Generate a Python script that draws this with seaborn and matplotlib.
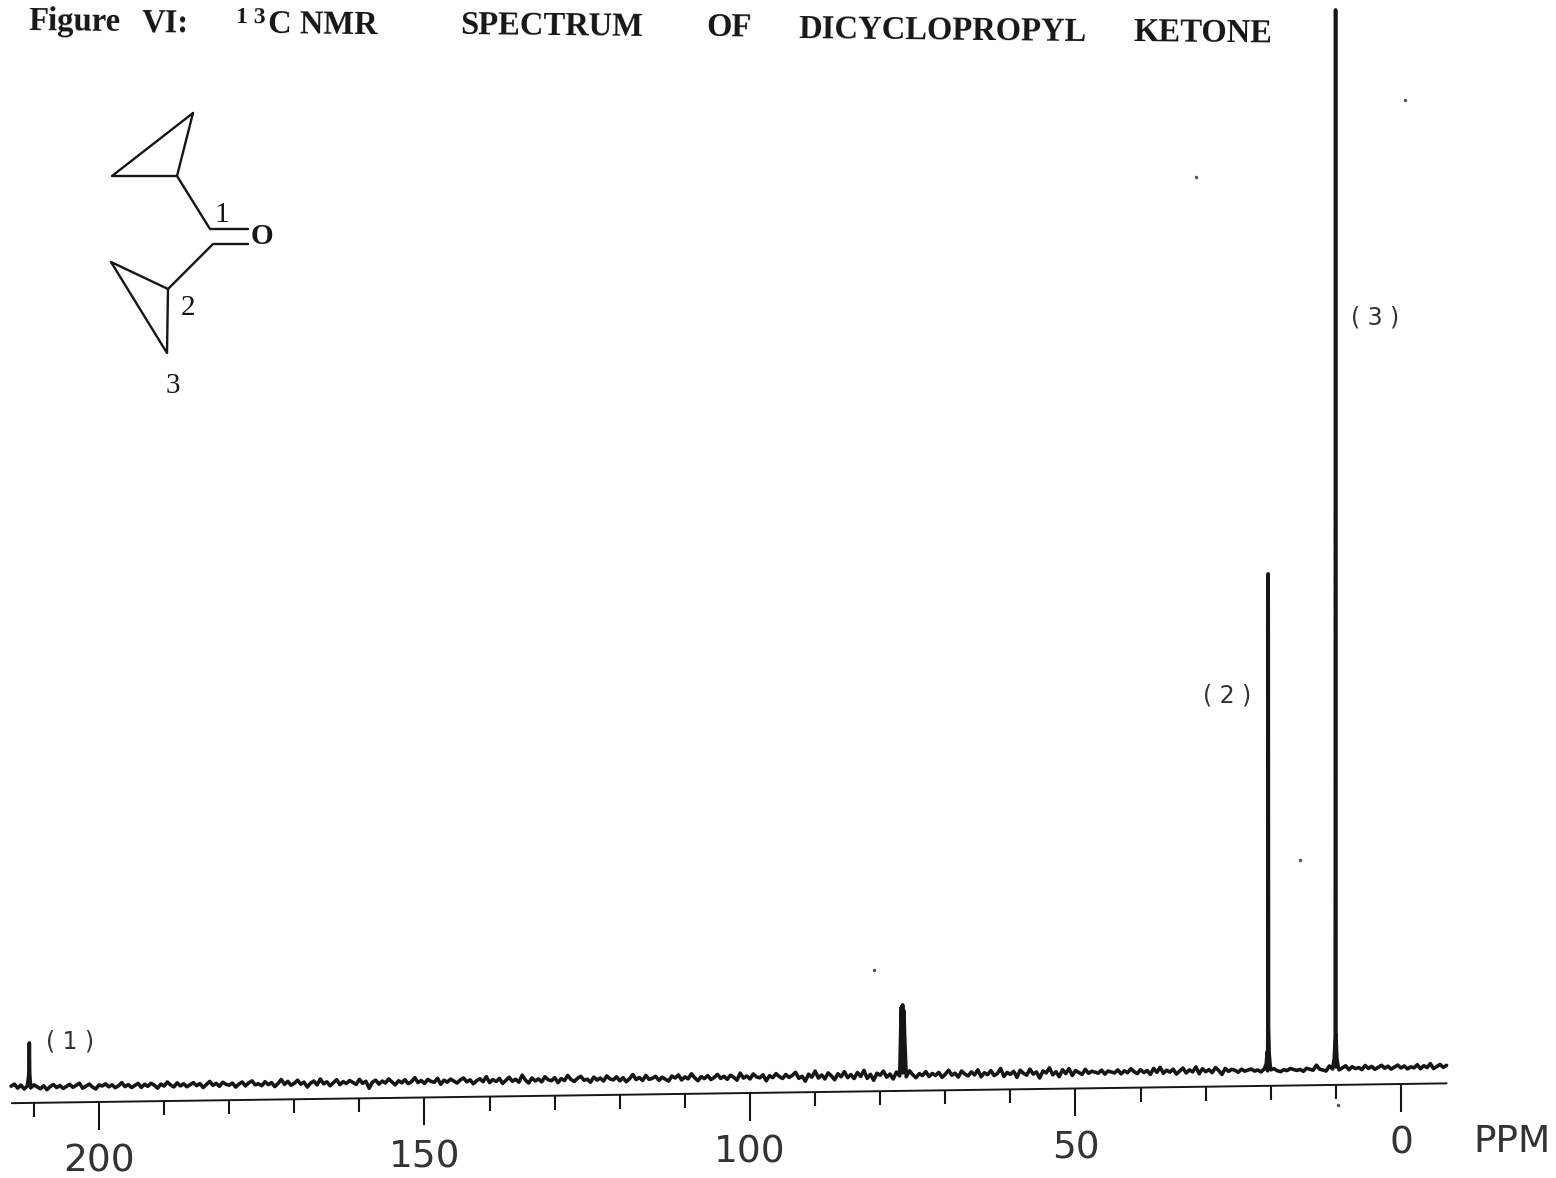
import numpy as np
import pandas as pd
import matplotlib.pyplot as plt
import seaborn as sns
from matplotlib.transforms import Affine2D

# baseline, one value every 0.5 ppm from 213.5 down to -7
baseline = [
    17, 19, 15, 18, 14, 17, 15, 18, 16, 14, 17, 13, 16, 18, 15, 17, 14, 16, 18, 15,
    17, 19, 14, 16, 18, 15, 13, 17, 16, 18, 15, 17, 14, 16, 19, 15, 17, 14, 16, 18,
    14, 17, 15, 18, 16, 13, 17, 15, 19, 16, 14, 18, 15, 17, 14, 16, 18, 15, 17, 13,
    16, 19, 15, 17, 14, 18, 16, 15, 17, 13, 16, 18, 14, 17, 19, 15, 16, 14, 18, 15,
    17, 13, 16, 20, 15, 18, 14, 16, 19, 15, 17, 12, 16, 18, 14, 20, 15, 17, 13, 16,
    19, 14, 17, 15, 18, 16, 14, 19, 15, 17, 10, 16, 18, 14, 17, 15, 19, 16, 13, 17,
    15, 18, 14, 16, 20, 15, 17, 14, 18, 16, 15, 19, 13, 17, 15, 18, 16, 14, 17, 19,
    15, 17, 13, 16, 18, 15, 20, 14, 17, 15, 18, 13, 16, 19, 15, 17, 14, 21, 16, 13,
    18, 15, 17, 14, 19, 16, 15, 18, 13, 17, 15, 20, 16, 14, 17, 19, 15, 16, 13, 18,
    15, 17, 14, 19, 16, 15, 18, 14, 17, 13, 16, 20, 15, 17, 14, 19, 15, 16, 18, 14,
    17, 15, 13, 18, 16, 19, 14, 17, 15, 20, 16, 13, 17, 15, 18, 14, 16, 19, 15, 17,
    14, 18, 16, 13, 20, 15, 17, 14, 19, 16, 15, 18, 12, 17, 15, 19, 16, 14, 18, 15,
    17, 20, 14, 16, 11, 18, 15, 21, 14, 17, 13, 19, 16, 12, 18, 15, 20, 14, 17, 13,
    19, 15, 21, 13, 17, 11, 18, 16, 20, 14, 17, 12, 19, 15, 18, 14, 20, 16, 13, 17,
    15, 19, 14, 17, 15, 18, 13, 16, 20, 15, 17, 13, 19, 16, 14, 18, 15, 20, 13, 17,
    15, 19, 14, 16, 21, 13, 17, 15, 18, 12, 19, 16, 14, 20, 15, 17, 11, 18, 16, 21,
    14, 17, 12, 19, 15, 20, 13, 18, 16, 14, 19, 15, 17, 16, 15, 18, 14, 17, 16, 15,
    18, 14, 17, 15, 19, 16, 14, 18, 15, 17, 13, 19, 15, 20, 14, 17, 15, 18, 13, 16,
    19, 14, 17, 15, 20, 13, 18, 15, 17, 14, 19, 16, 12, 18, 15, 17, 16, 14, 17, 15,
    16, 17, 15, 16, 14, 17, 15, 16, 17, 15, 14, 16, 15, 17, 16, 15, 16, 14, 17, 16,
    15, 20, 16, 15, 14, 19, 16, 18, 15, 17, 19, 15, 18, 16, 17, 15, 19, 16, 18, 15,
    17, 19, 16, 18, 15, 17, 19, 16, 18, 15, 17, 16, 19, 15, 18, 16, 20, 15, 17, 19,
    16, 18,
]
baseline_start = 213.5
baseline_step = -0.5

# peaks: (3) ring CH2, (2) ring CH, solvent triplet, (1) C=O
peak_ppm = [210.75, 210.7, 210.65,
            76.85, 76.75, 76.65, 76.55, 76.45, 76.35, 76.25,
            20.7, 20.55, 20.45, 20.4, 20.35, 20.25, 20.1,
            10.45, 10.25, 10.1, 10.05, 10.0, 9.85, 9.65]
peak_height = [30, 60, 30,
               60, 84, 30, 86, 30, 80, 55,
               22, 34, 60, 512, 60, 32, 21,
               19, 26, 50, 1075, 50, 26, 18]

major_ticks = [200, 150, 100, 50, 0]
major_labels = ['200', '150', '100', '50', '0']
minor_ticks = [210, 190, 180, 170, 160, 140, 130, 120, 110, 90, 80, 70, 60, 40, 30, 20, 10]
ruler_ends = [213.4, -7]

title_words = ['Figure', 'VI:', '1 3', 'C NMR', 'SPECTRUM', 'OF', 'DICYCLOPROPYL', 'KETONE']
title_x = [28, 142, 236, 268, 460, 706, 798, 1133]
title_y = [22, 23, 18, 25, 26, 28, 31, 33]
title_size = [23.5, 23.5, 17, 23.5, 23.5, 23.5, 23.5, 23.5]

ppm = baseline_start + baseline_step * np.arange(len(baseline))
df = pd.DataFrame({'ppm': np.r_[ppm, peak_ppm], 'height': np.r_[baseline, peak_height]})
df = df.sort_values('ppm', ascending=False)

sns.set_theme(style='white')
plt.rcParams['font.family'] = ['DejaVu Sans']
ink = '#161616'

fig = plt.figure(figsize=(15.56, 11.78), dpi=100)
ax = fig.add_axes([0, (1178 - 1084) / 1178, 1, 1084 / 1178])

# the page was scanned slightly crooked, everything on the axis leans with it
lean = 0.0138
tilt = Affine2D.from_values(1, lean, 0, 1, 0, -lean * 1401)
# page pixels, origin top left
page = Affine2D().scale(1, -1).translate(0, 1178)

sns.lineplot(data=df, x='ppm', y='height', sort=False, estimator=None, color=ink, lw=2.6,
             transform=ax.transData + tilt, clip_on=False, ax=ax)
ax.plot(ruler_ends, [0, 0], color=ink, lw=1.4, transform=ax.transData + tilt, clip_on=False)

ax.set_xlim(1401 / 6.51, (1401 - 1556) / 6.51)
ax.set_ylim(0, 1084)
ax.set_yticks([])
ax.set_ylabel('')
ax.set_xticks(major_ticks, major_labels)
ax.set_xticks(minor_ticks, minor=True)
ax.tick_params(axis='x', which='major', bottom=True, length=20, width=1.5, color=ink,
               labelsize=27, labelcolor='#333333', pad=10)
ax.tick_params(axis='x', which='minor', bottom=True, length=10, width=1.5, color=ink)
for tick in ax.xaxis.get_major_ticks() + ax.xaxis.get_minor_ticks():
    tick.tick1line.set_transform(tick.tick1line.get_transform() + tilt)
    tick.label1.set_transform(tick.label1.get_transform() + tilt)
ax.set_xlabel('PPM', fontsize=27, color='#333333')
ax.xaxis.set_label_coords(1512 / 1556, -40 / 1084)
sns.despine(ax=ax, left=True, bottom=True, top=True, right=True)
ax.patch.set_alpha(0)

# title, word by word as typed on the page
for word, x, y, size in zip(title_words, title_x, title_y, title_size):
    ax.text(x, y, word, transform=page, family='Liberation Serif', weight='bold',
            fontsize=size, color=ink, ha='left', va='center', rotation=-0.6)

# peak labels
for label, x, y in [('( 1 )', 70, 1041), ('( 2 )', 1227, 695), ('( 3 )', 1375, 317)]:
    ax.text(x, y, label, transform=page, fontsize=17, color='#333333', ha='center', va='center')

# structure drawing
bonds = [
    [(193, 113), (112, 176), (177, 176), (193, 113)],
    [(177, 176), (210, 229), (248, 229)],
    [(248, 244), (213, 244), (168, 289)],
    [(168, 289), (111, 262), (167, 353), (168, 289)],
]
for bond in bonds:
    xs, ys = zip(*bond)
    ax.plot(xs, ys, color=ink, lw=1.7, transform=page, clip_on=False)
for label, x, y, weight in [('1', 222, 215, 'normal'), ('O', 262, 237, 'bold'),
                            ('2', 188, 308, 'normal'), ('3', 173, 386, 'normal')]:
    ax.text(x, y, label, transform=page, family='Liberation Serif', weight=weight,
            fontsize=21, color=ink, ha='center', va='center')

# specks of dust on the scan
ax.plot([1405, 1196, 874, 1300, 1338], [100, 177, 970, 860, 1105], ls='', marker='o', ms=1.5,
        color='#555555', transform=page, clip_on=False)

fig.savefig('out.png', dpi=100)
